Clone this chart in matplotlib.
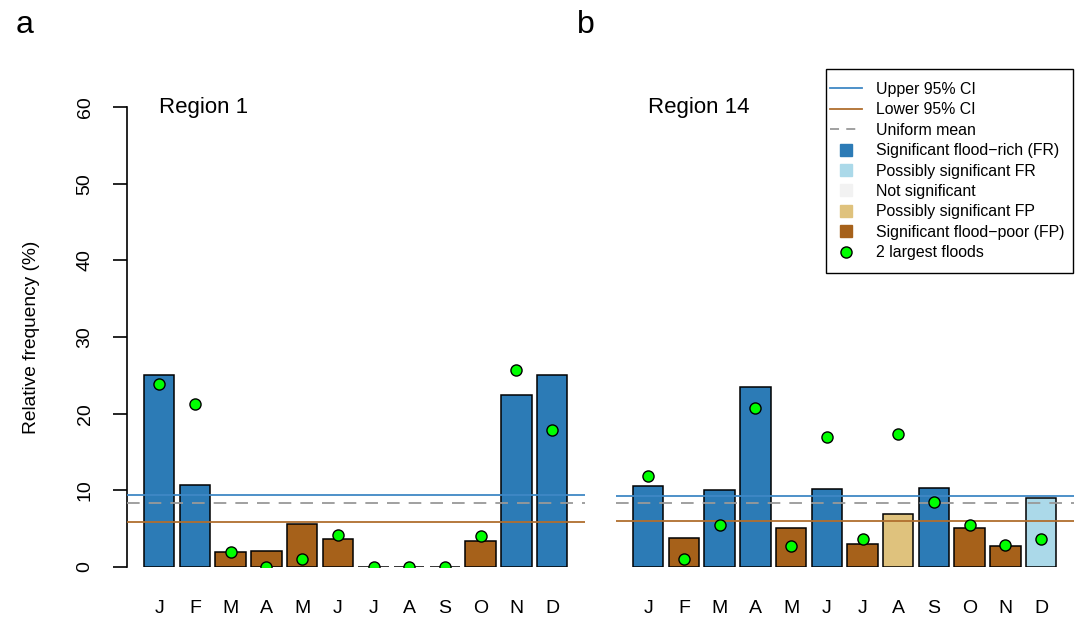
import numpy as np
import matplotlib
matplotlib.use("Agg")
import matplotlib.pyplot as plt
from matplotlib.lines import Line2D
from matplotlib.patches import Rectangle

plt.rcParams['font.family'] = ['Liberation Sans', 'DejaVu Sans']

# data
months = ["J", "F", "M", "A", "M", "J", "J", "A", "S", "O", "N", "D"]

# Region 1
freq_r1 = [25.0, 10.7, 2.0, 2.1, 5.6, 3.7, 0.0, 0.0, 0.0, 3.4, 22.4, 25.1]
cls_r1 = ["FR", "FR", "FP", "FP", "FP", "FP", "FP", "FP", "FP", "FP", "FR", "FR"]
top2_r1 = [23.9, 21.3, 2.0, 0.0, 1.0, 4.2, 0.0, 0.0, 0.0, 4.0, 25.7, 17.9]
upper_r1 = 9.4
lower_r1 = 5.9

# Region 14
freq_r14 = [10.6, 3.8, 10.0, 23.5, 5.1, 10.2, 3.0, 6.9, 10.3, 5.1, 2.8, 9.0]
cls_r14 = ["FR", "FP", "FR", "FR", "FP", "FR", "FP", "pFP", "FR", "FP", "FP", "pFR"]
top2_r14 = [11.9, 1.0, 5.5, 20.7, 2.8, 17.0, 3.7, 17.3, 8.5, 5.5, 2.9, 3.7]
upper_r14 = 9.3
lower_r14 = 6.0

uniform_mean = 100 / 12

colours = {"FR": "#2C7BB6", "pFR": "#ABD9E9", "NS": "#F2F2F2",
           "pFP": "#DFC27D", "FP": "#A6611A"}
upper_col = "#3F88C5"
lower_col = "#B06E2E"
mean_col = "#999999"

W, H = 1082, 620
fig = plt.figure(figsize=(W / 100, H / 100), dpi=100)


def panel(left_px, right_px, freq, cls, top2, upper, lower, region, first):
    ax = fig.add_axes([left_px / W, (H - 567) / H, (right_px - left_px) / W, 460 / H])
    x = np.arange(len(months))
    ax.bar(x, freq, width=0.85, color=[colours[c] for c in cls],
           edgecolor="black", linewidth=1.1, zorder=2)
    ax.axhline(upper, color=upper_col, lw=1.3, zorder=3)
    ax.axhline(lower, color=lower_col, lw=1.3, zorder=3)
    ax.axhline(uniform_mean, color=mean_col, lw=1.3, ls=(0, (7, 5)), zorder=3)
    ax.plot(x, top2, ls="none", marker="o", ms=8, mfc="#00FF00", mec="black",
            mew=1.0, zorder=4)
    ax.set_xlim(-0.9, 11.92)
    ax.set_ylim(0, 60)
    for s in ["top", "right", "bottom"]:
        ax.spines[s].set_visible(False)
    ax.set_xticks(x)
    ax.set_xticklabels(months, fontsize=14)
    ax.tick_params(axis="x", length=0, pad=24)
    if first:
        ax.spines["left"].set_linewidth(1.2)
        ax.set_yticks(np.arange(0, 61, 10))
        ax.set_yticklabels([str(v) for v in range(0, 61, 10)], fontsize=14,
                           rotation=90, va="center")
        ax.tick_params(axis="y", length=10, width=1.2, pad=14)
    else:
        ax.spines["left"].set_visible(False)
        ax.set_yticks([])
    ax.text(0, 60, region, fontsize=16, ha="left", va="center")
    return ax


panel(127, 585, freq_r1, cls_r1, top2_r1, upper_r1, lower_r1, "Region 1", True)
panel(616, 1074, freq_r14, cls_r14, top2_r14, upper_r14, lower_r14, "Region 14", False)

fig.text(32 / W, 1 - 337 / H, "Relative frequency (%)", rotation=90,
         fontsize=13.8, ha="center", va="center")
fig.text(16 / W, 1 - 33 / H, "a", fontsize=23, ha="left", va="baseline")
fig.text(577 / W, 1 - 33 / H, "b", fontsize=23, ha="left", va="baseline")

# legend
labels = ["Upper 95% CI", "Lower 95% CI", "Uniform mean",
          "Significant flood\u2212rich (FR)", "Possibly significant FR",
          "Not significant", "Possibly significant FP",
          "Significant flood\u2212poor (FP)", "2 largest floods"]
handles = [
    Line2D([], [], color=upper_col, lw=1.3),
    Line2D([], [], color=lower_col, lw=1.3),
    Line2D([], [], color=mean_col, lw=1.3, ls=(0, (5, 4))),
]
for key in ["FR", "pFR", "NS", "pFP", "FP"]:
    handles.append(Line2D([], [], ls="none", marker="s", ms=8,
                          mfc=colours[key], mec=colours[key]))
handles.append(Line2D([], [], ls="none", marker="o", ms=8, mfc="#00FF00",
                      mec="black", mew=1.0))

fig.add_artist(Rectangle((826 / W, 1 - 273 / H), (1073 - 826) / W, (273 - 69) / H,
                         transform=fig.transFigure, fill=False,
                         edgecolor="black", lw=1.0))
fig.legend(handles, labels, loc="upper left", bbox_to_anchor=(830 / W, 1 - 82 / H),
           frameon=False, fontsize=11.4, borderpad=0, borderaxespad=0,
           handlelength=2.0, handletextpad=0.9, labelspacing=0.34)

fig.savefig("out.png", dpi=100)
